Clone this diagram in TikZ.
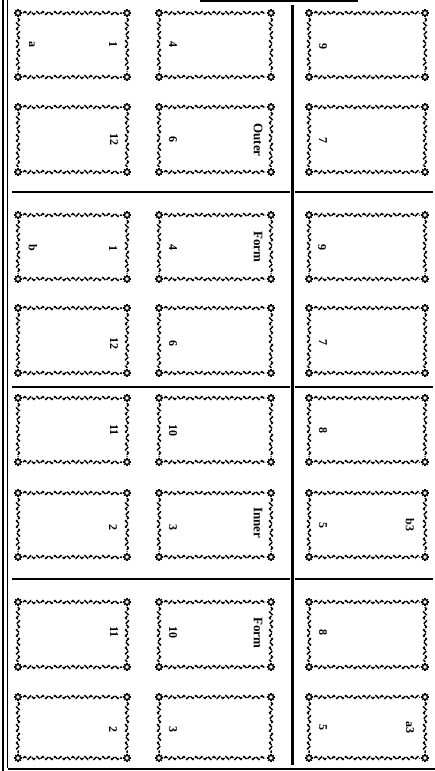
\documentclass[tikz,border=0pt]{standalone}
\usepackage{fontspec}
\setmainfont{Liberation Serif}
\usetikzlibrary{decorations.pathmorphing}
\tikzset{
  wave/.style={decorate, decoration={snake, segment length=6pt, amplitude=1.4pt},
    line width=1.5pt, dash pattern=on 4.6pt off 1.4pt},
  rule/.style={line width=1.2pt},
  thickrule/.style={line width=2.6pt},
  lbl/.style={font=\fontsize{12}{12}\selectfont\bfseries, rotate=-90, inner sep=0pt},
  formlbl/.style={font=\fontsize{13}{13}\selectfont\bfseries, rotate=-90, inner sep=0pt},
  corner/.pic={
    \draw[line width=1.2pt] (0,0) circle (2.4pt);
    \foreach \a in {0,45,...,315} \draw[line width=1.3pt] (\a:2.4pt) -- (\a:3.9pt);
  }
}
\newcommand\pagebox[4]{%
  \pic at (#1,#2) {corner};
  \pic at (#3,#2) {corner};
  \pic at (#1,#4) {corner};
  \pic at (#3,#4) {corner};
  \draw[wave] (#1+5,#2) -- (#3-5,#2);
  \draw[wave] (#1+5,#4) -- (#3-5,#4);
  \draw[wave] (#1,#2+5) -- (#1,#4-5);
  \draw[wave] (#3,#2+5) -- (#3,#4-5);
}
\begin{document}
\begin{tikzpicture}[x=1pt,y=-1pt]
  \useasboundingbox (0,0) rectangle (435,771);
  % border
  \draw[line width=2pt] (2.5,0) -- (2.5,771);
  \draw[line width=1.3pt] (7.5,0) -- (7.5,768);
  \draw[line width=1.5pt] (8,769) -- (435,769);
  \draw[line width=1.2pt] (200,1) -- (358,1);
  % dividers
  \draw[thickrule] (292.5,5) -- (292.5,765);
  \foreach \y in {192,387,579} {
    \draw[rule] (12,\y) -- (290,\y);
    \draw[rule] (295,\y) -- (433,\y);
  }
  % page boxes
  \foreach \ya/\yb in {13/77,107/172,215/279,308/373,398/462,493/557,602/667,697/758} {
    \pagebox{18}{\ya}{127}{\yb}
    \pagebox{159}{\ya}{271}{\yb}
    \pagebox{309}{\ya}{425}{\yb}
  }
  % Outer form (rows 1-2)
  \node[lbl] (a1) at (32,44) {a};
  \node[lbl] (p1a) at (113,44) {1};
  \node[lbl] (p4a) at (173,44) {4};
  \node[lbl] (p9a) at (323,46) {9};
  \node[lbl] (p12a) at (114,139) {12};
  \node[lbl] (p6a) at (173,139) {6};
  \node[formlbl] (outer) at (258,140) {Outer};
  \node[lbl] (p7a) at (323,140) {7};
  % rows 3-4
  \node[lbl] (b1) at (33,248) {b};
  \node[lbl] (p1b) at (113,248) {1};
  \node[lbl] (p4b) at (173,247) {4};
  \node[formlbl] (form1) at (258,247) {Form};
  \node[lbl] (p9b) at (322,247) {9};
  \node[lbl] (p12b) at (114,343) {12};
  \node[lbl] (p6b) at (173,343) {6};
  \node[lbl] (p7b) at (323,342) {7};
  % Inner form (rows 5-6)
  \node[lbl] (p11a) at (114,430) {11};
  \node[lbl] (p10a) at (173,430) {10};
  \node[lbl] (p8a) at (323,430) {8};
  \node[lbl] (p2a) at (113,527) {2};
  \node[lbl] (p3a) at (173,527) {3};
  \node[formlbl] (inner) at (258,523) {Inner};
  \node[lbl] (p5a) at (323,525) {5};
  \node[lbl] (b3) at (410,525) {b3};
  % rows 7-8
  \node[lbl] (p11b) at (114,632) {11};
  \node[lbl] (p10b) at (173,632) {10};
  \node[formlbl] (form2) at (258,633) {Form};
  \node[lbl] (p8b) at (323,632) {8};
  \node[lbl] (p2b) at (113,729) {2};
  \node[lbl] (p3b) at (173,729) {3};
  \node[lbl] (p5b) at (323,727) {5};
  \node[lbl] (a3) at (410,727) {a3};
\end{tikzpicture}
\end{document}
